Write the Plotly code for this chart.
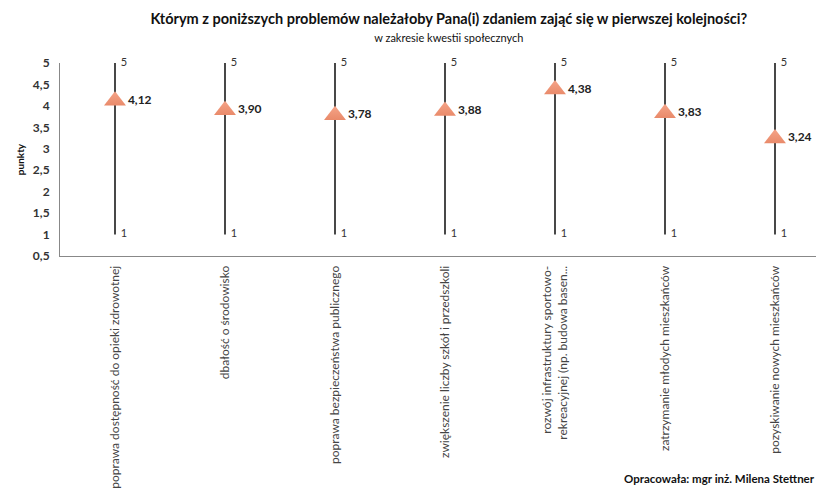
import plotly.graph_objects as go

categories = [
    "poprawa dostępność do opieki zdrowotnej",
    "dbałość o środowisko",
    "poprawa bezpieczeństwa publicznego",
    "zwiększenie liczby szkół i przedszkoli",
    "rozwój infrastruktury sportowo-<br>rekreacyjnej (np. budowa basen...",
    "zatrzymanie młodych mieszkańców",
    "pozyskiwanie nowych mieszkańców",
]
scale_max = [5, 5, 5, 5, 5, 5, 5]
scale_min = [1, 1, 1, 1, 1, 1, 1]
means = [4.12, 3.90, 3.78, 3.88, 4.38, 3.83, 3.24]
y_ticks = [0.5, 1, 1.5, 2, 2.5, 3, 3.5, 4, 4.5, 5]

FONT = "Lato"
fig = go.Figure()

# vertical range lines
lx, ly = [], []
for c, lo, hi in zip(categories, scale_min, scale_max):
    lx += [c, c, None]
    ly += [lo, hi, None]
fig.add_trace(go.Scatter(x=lx, y=ly, mode="lines",
                         line=dict(color="#1a1a1a", width=1.6),
                         hoverinfo="skip", showlegend=False))

# max labels
fig.add_trace(go.Scatter(x=categories, y=scale_max, mode="text",
                         text=["  " + str(v) for v in scale_max],
                         textposition="middle right", cliponaxis=False,
                         textfont=dict(family=FONT, size=11, color="#333"),
                         showlegend=False, hoverinfo="skip"))
# min labels
fig.add_trace(go.Scatter(x=categories, y=scale_min, mode="text",
                         text=["  " + str(v) for v in scale_min],
                         textposition="middle right", cliponaxis=False,
                         textfont=dict(family=FONT, size=11, color="#333"),
                         showlegend=False, hoverinfo="skip"))

# mean markers
fig.add_trace(go.Scatter(x=categories, y=means, mode="markers+text",
                         marker=dict(symbol="triangle-up", size=19,
                                     color="#F5A488",
                                     gradient=dict(type="vertical", color="#E98A6A"),
                                     line=dict(width=0)),
                         text=[f"{v:.2f}".replace(".", ",") for v in means],
                         textposition="middle right", cliponaxis=False,
                         textfont=dict(family=FONT, size=12, color="#222", weight="bold"),
                         showlegend=False))

fig.update_layout(
    width=824, height=488,
    margin=dict(l=52, r=2, t=55, b=240),
    paper_bgcolor="white", plot_bgcolor="white",
    separators=", ",
    font=dict(family=FONT, color="#333"),
    title=dict(
        text="<b>Którym z poniższych problemów należałoby Pana(i) zdaniem zająć się w pierwszej kolejności?</b>"
             "<br><span style='font-size:11px;font-weight:normal'>w zakresie kwestii społecznych</span>",
        x=0.535, xanchor="center", y=0.968, yanchor="top",
        font=dict(family=FONT, size=14.5, color="#111"),
    ),
    xaxis=dict(type="category", range=[-0.5, 6.5], tickangle=-90, automargin=False,
               showline=True, linecolor="#888", linewidth=1,
               showgrid=False, ticks="", ticklabelstandoff=4,
               tickfont=dict(family=FONT, size=12, color="#444")),
    yaxis=dict(range=[0.5, 5], tickvals=y_ticks, automargin=False,
               showline=True, linecolor="#888", linewidth=1,
               showgrid=False, zeroline=False, ticks="", ticklabelstandoff=7,
               tickfont=dict(family=FONT, size=12, color="#333", weight="bold"),
               title=dict(text="punkty", font=dict(family=FONT, size=10, color="#111", weight="bold"),
                          standoff=6)),
    annotations=[dict(text="<b>Opracowała: mgr inż. Milena Stettner</b>",
                      xref="paper", yref="paper", x=(614 - 52) / 770, y=-222 / 193,
                      xanchor="left", yanchor="middle", showarrow=False,
                      font=dict(family=FONT, size=11.5, color="#111"))],
)

fig.write_html("out.html")
